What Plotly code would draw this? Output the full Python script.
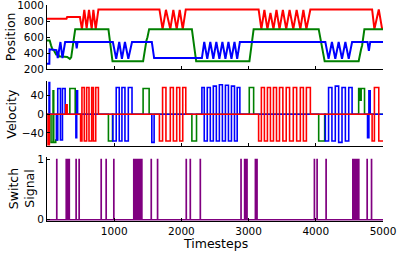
import plotly.graph_objects as go

# ---------------- data ----------------
# Position keypoints (timestep, value)
pos_red_t = [0, 290, 300, 490, 520, 555, 590, 625, 665, 690, 725, 765,
             1673, 1720, 1770, 1835, 1880, 1930, 1975, 2020, 2065,
             3149, 3190, 3235, 3280, 3325, 3370, 3415, 3460, 3510, 3560, 3610, 3665, 3715, 3770, 3815, 3860, 3919,
             4838, 4872, 4937, 4987, 5000]
pos_red_v = [830, 830, 850, 850, 700, 940, 710, 940, 700, 940, 700, 945,
             945, 700, 940, 700, 940, 700, 940, 700, 945,
             945, 700, 940, 700, 900, 700, 940, 700, 940, 700, 940, 700, 940, 700, 940, 700, 945,
             945, 700, 945, 700, 720]

pos_green_t = [0, 40, 60, 80, 100, 120, 140, 160, 180, 220, 300, 340, 360, 420,
               914, 975, 1430, 1480, 1495, 1520, 2156, 2220, 3012, 3075,
               4043, 4132, 4638, 4674, 4690, 4723, 5000]
pos_green_v = [560, 560, 500, 450, 440, 400, 380, 420, 360, 360, 355, 330, 350, 700,
               700, 300, 300, 560, 600, 700, 700, 300, 300, 700,
               700, 300, 300, 450, 500, 700, 700]

pos_blue_t = [0, 35, 38, 100, 140, 160, 200, 230, 270, 430, 442, 455,
              980, 1030, 1075, 1115, 1160, 1210, 1265, 1560, 1594,
              2305, 2340, 2385, 2430, 2475, 2520, 2565, 2610, 2655, 2700, 2745, 2790, 2830, 2870,
              4142, 4190, 4240, 4290, 4340, 4390, 4440, 4490, 4540, 4770, 4790, 4810, 5000]
pos_blue_v = [270, 270, 450, 440, 440, 340, 540, 340, 540, 540, 460, 540,
              540, 330, 540, 330, 540, 330, 540, 540, 340,
              340, 540, 330, 540, 330, 540, 330, 540, 330, 540, 330, 540, 330, 540,
              540, 330, 540, 330, 540, 330, 540, 330, 540, 540, 430, 540, 540]

# Velocity (step values: value holds from timestep until the next one)
vel_red_t = [0, 15, 35, 280, 300, 500, 520, 555, 590, 625, 665, 690, 725, 765,
             1673, 1720, 1770, 1835, 1880, 1930, 1975, 2020, 2065,
             3149, 3190, 3235, 3280, 3325, 3370, 3415, 3460, 3510, 3560, 3610, 3665, 3715, 3770, 3815, 3860, 3919,
             4838, 4872, 4937, 4987, 5000]
vel_red_v = [0, -67, 0, 20, 0, -57, 57, -57, 57, -57, 57, -57, 57, 0,
             -57, 57, -57, 57, -57, 57, -57, 57, 0,
             -57, 57, -57, 57, -57, 57, -57, 57, -57, 57, -57, 57, -57, 57, -57, 57, 0,
             -57, 57, -57, -57, -57]

vel_green_t = [0, 60, 90, 100, 130, 150, 340, 420, 914, 975, 1430, 1520,
               2156, 2225, 3010, 3075, 4043, 4132, 4638, 4660, 4675, 4725, 5000]
vel_green_v = [0, -60, 50, -60, -55, 0, 55, 0, -57, 0, 55, 0,
               -57, 0, 57, 0, -57, 0, 55, 30, 55, 0, 0]

vel_blue_t = [0, 30, 40, 140, 160, 200, 230, 270, 430, 442, 455,
              980, 1030, 1075, 1115, 1160, 1210, 1265, 1560, 1594,
              2305, 2340, 2385, 2430, 2475, 2520, 2565, 2610, 2655, 2700, 2745, 2790, 2830, 2870,
              4142, 4190, 4240, 4290, 4340, 4390, 4440, 4490, 4540, 4770, 4790, 4810, 5000]
vel_blue_v = [0, 68, 0, -55, 55, -55, 55, 0, -50, 50, 0,
              -57, 57, -57, 57, -57, 57, 0, -60, 0,
              57, -57, 57, -57, 60, -57, 63, -57, 62, -57, 60, -57, 57, 0,
              -57, 57, -57, 60, -60, 57, -57, 57, 0, -50, 50, 0, 0]

# Switch signal event timesteps
switch_t = [144, 285, 300, 315, 330, 432, 477, 805, 879, 993,
            1290, 1300, 1310, 1320, 1330, 1340, 1350, 1360, 1370, 1380, 1390, 1400, 1410,
            1550, 1644, 2071, 2131, 2280, 2886, 2940, 2958, 2975, 3100, 3124,
            3978, 4018, 4152,
            4550, 4560, 4570, 4580, 4590, 4600, 4610, 4620, 4630, 4638,
            4763, 4828]

x_ticks = [1000, 2000, 3000, 4000, 5000]

# ---------------- figure ----------------
RED, GREEN, BLUE, PURPLE = "#ff0000", "#008000", "#0000ff", "#800080"
fig = go.Figure()

fig.add_trace(go.Scatter(x=pos_red_t, y=pos_red_v, mode="lines", line=dict(color=RED, width=2), xaxis="x", yaxis="y"))
fig.add_trace(go.Scatter(x=pos_green_t, y=pos_green_v, mode="lines", line=dict(color=GREEN, width=2), xaxis="x", yaxis="y"))
fig.add_trace(go.Scatter(x=pos_blue_t, y=pos_blue_v, mode="lines", line=dict(color=BLUE, width=2), xaxis="x", yaxis="y"))

fig.add_trace(go.Scatter(x=vel_green_t, y=vel_green_v, mode="lines", line=dict(color=GREEN, width=1.6, shape="hv"), xaxis="x2", yaxis="y2"))
fig.add_trace(go.Scatter(x=vel_blue_t, y=vel_blue_v, mode="lines", line=dict(color=BLUE, width=1.6, shape="hv"), xaxis="x2", yaxis="y2"))
fig.add_trace(go.Scatter(x=vel_red_t, y=vel_red_v, mode="lines", line=dict(color=RED, width=1.6, shape="hv"), xaxis="x2", yaxis="y2"))

sx, sy = [0], [0]
for t in switch_t:
    sx += [t, t, t + 3, t + 3]
    sy += [0, 1, 1, 0]
sx.append(5000); sy.append(0)
fig.add_trace(go.Scatter(x=sx, y=sy, mode="lines", line=dict(color=PURPLE, width=1.5), xaxis="x3", yaxis="y3"))

font = dict(family="DejaVu Sans", size=10.5, color="black")
xcommon = dict(range=[0, 5000], tickvals=x_ticks, ticks="inside", ticklen=3, tickcolor="black",
               showline=True, linecolor="black", linewidth=1, showgrid=False, zeroline=False,
               tickfont=font, automargin=False, ticklabeloverflow="allow")
ycommon = dict(ticks="inside", ticklen=3, tickcolor="black", showline=True, linecolor="black", linewidth=1,
               showgrid=False, zeroline=False, tickfont=font, automargin=False, ticklabeloverflow="allow")

fig.update_layout(
    width=407, height=255, margin=dict(l=47, r=24, t=5, b=34, autoexpand=False),
    paper_bgcolor="white", plot_bgcolor="white", showlegend=False,
    xaxis=dict(**xcommon, anchor="y", showticklabels=False),
    xaxis2=dict(**xcommon, anchor="y2", showticklabels=False),
    xaxis3=dict(**xcommon, anchor="y3", showticklabels=True),
    yaxis=dict(**ycommon, domain=[0.702, 1.0], range=[200, 1000], tickvals=[200, 400, 600, 800, 1000]),
    yaxis2=dict(**ycommon, domain=[0.349, 0.646], range=[-67, 70], tickvals=[-40, 0, 40]),
    yaxis3=dict(**ycommon, domain=[0, 0.296], range=[-0.02, 1.04], tickvals=[0, 1]),
)

tfont = dict(family="DejaVu Sans", size=12.5, color="black")
fig.add_annotation(text="Position", x=-0.11, xref="paper", y=0.851, yref="paper", textangle=-90,
                   showarrow=False, font=tfont, xanchor="center", yanchor="middle")
fig.add_annotation(text="Velocity", x=-0.104, xref="paper", y=0.497, yref="paper", textangle=-90,
                   showarrow=False, font=tfont, xanchor="center", yanchor="middle")
fig.add_annotation(text="Switch<br>Signal", x=-0.077, xref="paper", y=0.148, yref="paper", textangle=-90,
                   showarrow=False, font=tfont, xanchor="center", yanchor="middle")
fig.add_annotation(text="Timesteps", x=0.5, xref="paper", y=-0.102, yref="paper",
                   showarrow=False, font=tfont, xanchor="center", yanchor="middle")

fig.write_html("out.html", config={"displayModeBar": False},
               post_script="document.body.style.margin='0';document.body.style.overflow='hidden';")
